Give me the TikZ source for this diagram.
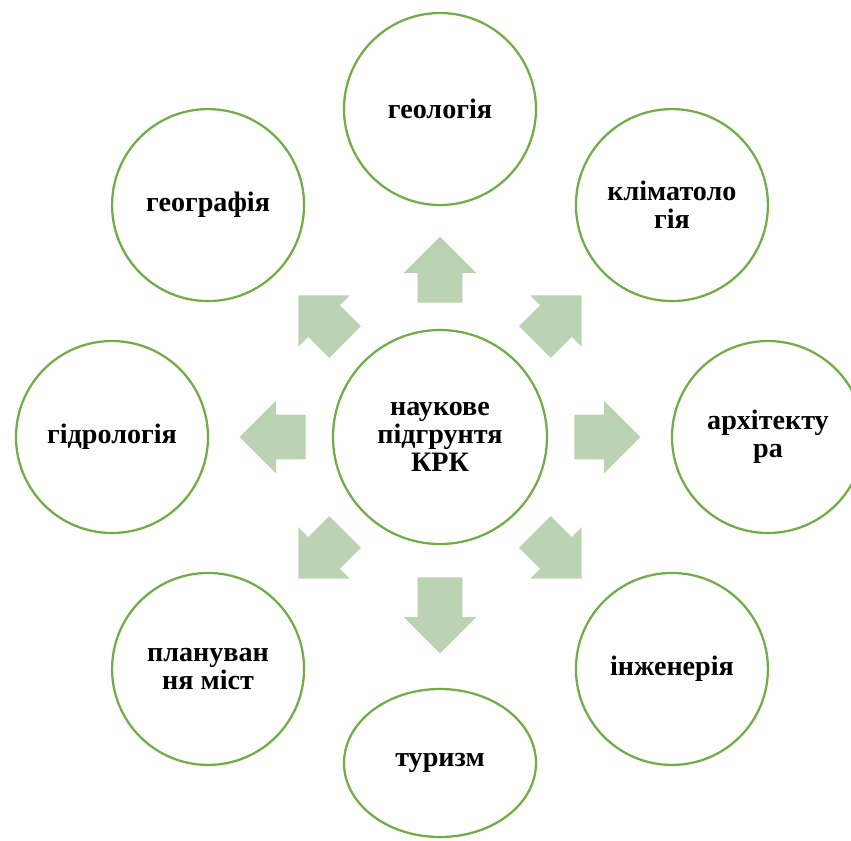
\documentclass[tikz,border=0pt]{standalone}
\usepackage{fontspec}
\setmainfont{Liberation Serif}
\usetikzlibrary{shapes.geometric,shapes.arrows}

\definecolor{ringgreen}{RGB}{112,173,71}
\definecolor{arrowgreen}{RGB}{187,211,178}

\begin{document}
\begin{tikzpicture}[
    topic/.style={circle, draw=ringgreen, line width=1.6pt, fill=white, minimum size=4.8cm, align=center, font=\fontsize{20}{20}\selectfont\bfseries},
    hub/.style={topic, minimum size=5.35cm},
    flow/.style={single arrow, fill=arrowgreen, draw=none, inner xsep=0pt, inner ysep=0.55cm, single arrow head extend=0.35cm, minimum height=1.65cm, anchor=tail}
]

% Frame
\useasboundingbox (-11,-10.075) rectangle (10.275,10.925);
\clip (-11,-10.075) rectangle (10.275,10.925);

% Centre
\node[hub] (base) at (0,0) {наукове\\підгрунтя\\КРК};

% Outer circles
\node[topic] (geology) at (90:8.2) {геологія};
\node[topic] (climate) at (45:8.2) {кліматоло\\гія};
\node[topic] (architecture) at (0:8.2) {архітекту\\ра};
\node[topic] (engineering) at (-45:8.2) {інженерія};
\node[topic, ellipse, minimum width=4.8cm, minimum height=3.7cm] (tourism) at (0,-8.15) {туризм};
\node[topic] (planning) at (-135:8.2) {плануван\\ня міст};
\node[topic] (hydrology) at (180:8.2) {гідрологія};
\node[topic] (geography) at (135:8.2) {географія};

% Arrows
\node[flow, rotate=90] (toGeology) at (90:3.35) {};
\node[flow, rotate=45] (toClimate) at (45:3.35) {};
\node[flow, rotate=0] (toArchitecture) at (0:3.35) {};
\node[flow, rotate=-45] (toEngineering) at (-45:3.35) {};
\node[flow, rotate=-90, minimum height=1.9cm] (toTourism) at (-90:3.5) {};
\node[flow, rotate=-135] (toPlanning) at (-135:3.35) {};
\node[flow, rotate=180] (toHydrology) at (180:3.35) {};
\node[flow, rotate=135] (toGeography) at (135:3.35) {};

\end{tikzpicture}
\end{document}
